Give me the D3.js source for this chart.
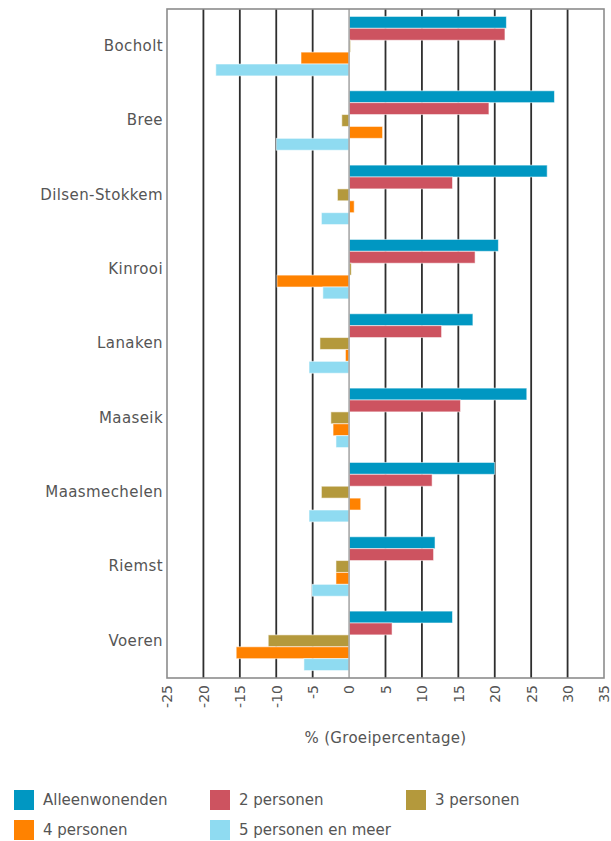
<!DOCTYPE html>
<html>
<head>
<meta charset="utf-8">
<script src="https://cdn.jsdelivr.net/npm/d3@7"></script>
<style>
  html, body { margin: 0; padding: 0; background: #fff; }
  svg { display: block; }
  text { font-family: "DejaVu Sans", Verdana, sans-serif; fill: #555; }
</style>
</head>
<body>
<svg id="chart" width="611" height="841"></svg>
<script>
const categories = ["Bocholt", "Bree", "Dilsen-Stokkem", "Kinrooi", "Lanaken", "Maaseik", "Maasmechelen", "Riemst", "Voeren"];
const seriesNames = ["Alleenwonenden", "2 personen", "3 personen", "4 personen", "5 personen en meer"];
const alleenwonenden = [21.6, 28.2, 27.2, 20.5, 17.0, 24.4, 20.0, 11.8, 14.2];
const personen2 = [21.4, 19.2, 14.2, 17.3, 12.7, 15.3, 11.4, 11.6, 5.9];
const personen3 = [0.2, -1.0, -1.6, 0.3, -4.0, -2.5, -3.8, -1.8, -11.1];
const personen4 = [-6.6, 4.6, 0.7, -9.9, -0.5, -2.2, 1.6, -1.8, -15.5];
const personen5 = [-18.3, -10.0, -3.8, -3.6, -5.5, -1.8, -5.5, -5.1, -6.2];
const tickValues = [-25, -20, -15, -10, -5, 0, 5, 10, 15, 20, 25, 30, 35];
const axisTitle = "% (Groeipercentage)";
const colors = ["#0097c2", "#cd5360", "#b4993c", "#ff8200", "#8fdbf1"];

const seriesValues = [alleenwonenden, personen2, personen3, personen4, personen5];

const svg = d3.select("#chart");
const m = { left: 167, right: 604, top: 9, bottom: 678 };

const x = d3.scaleLinear().domain([-25, 35]).range([m.left, m.right]);
const y = d3.scaleBand().domain(categories).range([m.top, m.bottom]).padding(0);
const ys = d3.scaleBand().domain(seriesNames)
  .range([y.bandwidth() * 0.1, y.bandwidth() * 0.9]).padding(0);

// gridlines
svg.append("g").selectAll("line")
  .data(tickValues.filter(t => t !== 0 && t !== -25 && t !== 35))
  .join("line")
  .attr("x1", d => x(d)).attr("x2", d => x(d))
  .attr("y1", m.top).attr("y2", m.bottom)
  .attr("stroke", "#2e2e2e").attr("stroke-width", 1.8);

// bars
const rows = [];
categories.forEach((c, i) => {
  seriesNames.forEach((s, j) => rows.push({ c, s, j, v: seriesValues[j][i] }));
});
svg.append("g").selectAll("rect")
  .data(rows)
  .join("rect")
  .attr("x", d => x(Math.min(0, d.v)))
  .attr("width", d => Math.abs(x(d.v) - x(0)))
  .attr("y", d => y(d.c) + ys(d.s))
  .attr("height", ys.bandwidth())
  .attr("fill", d => colors[d.j])
  .attr("stroke", "rgba(255,255,255,0.55)")
  .attr("stroke-width", 1);

// zero line
svg.append("line")
  .attr("x1", x(0)).attr("x2", x(0))
  .attr("y1", m.top).attr("y2", m.bottom)
  .attr("stroke", "#a8a8a8").attr("stroke-width", 1.6);

// frame
svg.append("rect")
  .attr("x", m.left).attr("y", m.top)
  .attr("width", m.right - m.left).attr("height", m.bottom - m.top)
  .attr("fill", "none").attr("stroke", "#8c8c8c").attr("stroke-width", 1.6);

// y axis labels
const yAxis = d3.axisLeft(y).tickSize(0).tickPadding(4);
const gy = svg.append("g").attr("transform", `translate(${m.left},0)`).call(yAxis);
gy.select(".domain").remove();
gy.selectAll("text").style("font-size", "15px").style("letter-spacing", "0.4px").style("fill", "#555");

// x axis labels
const xAxis = d3.axisBottom(x).tickValues(tickValues).tickSize(0).tickFormat(d => String(d));
const gx = svg.append("g").attr("transform", `translate(0,${m.bottom})`).call(xAxis);
gx.select(".domain").remove();
gx.selectAll("text")
  .attr("transform", "rotate(-90)")
  .attr("text-anchor", "end")
  .attr("x", -7).attr("y", 0).attr("dy", "0.35em")
  .style("font-size", "14px").style("fill", "#555");

// axis title
svg.append("text")
  .attr("x", (m.left + m.right) / 2).attr("y", 743)
  .attr("text-anchor", "middle")
  .style("font-size", "15px")
  .style("letter-spacing", "0.3px")
  .text(axisTitle);

// legend
const legendPos = [[14, 790], [210, 790], [406, 790], [14, 820], [210, 820]];
const lg = svg.append("g").selectAll("g").data(seriesNames).join("g")
  .attr("transform", (d, i) => `translate(${legendPos[i][0]},${legendPos[i][1]})`);
lg.append("rect").attr("width", 20).attr("height", 20).attr("fill", (d, i) => colors[i]);
lg.append("text").attr("x", 29).attr("y", 10).attr("dy", "0.35em")
  .style("font-size", "15px").text(d => d);
</script>
</body>
</html>
